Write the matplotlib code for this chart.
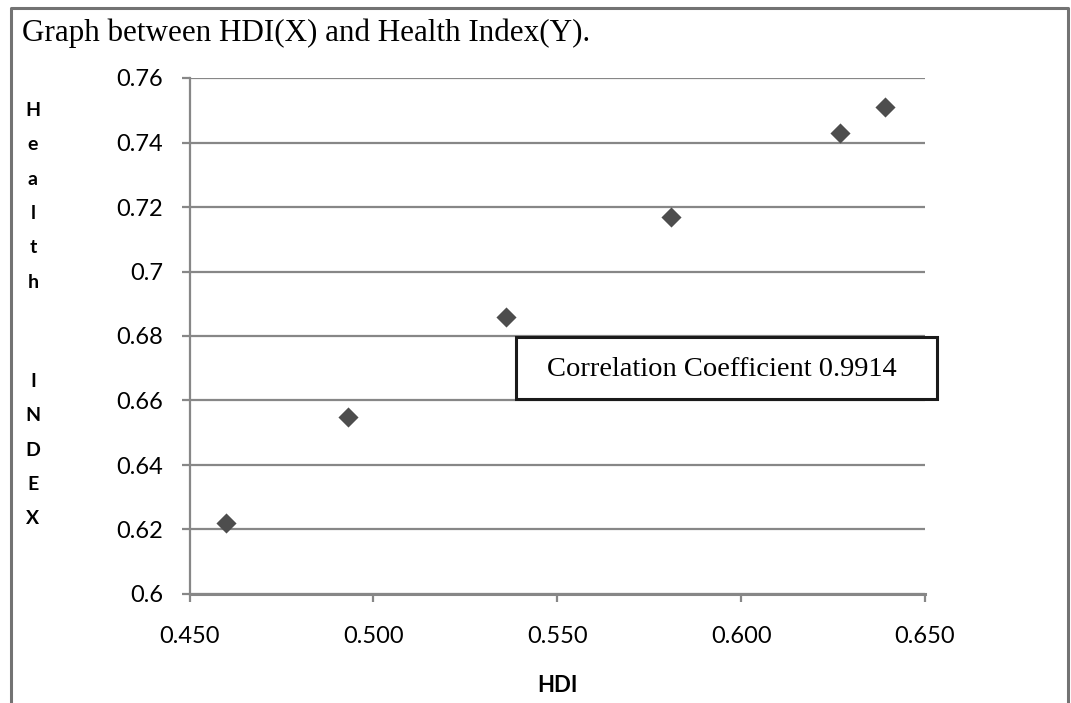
import numpy as np
import matplotlib.pyplot as plt
from matplotlib.lines import Line2D
from matplotlib.patches import Rectangle

# data
hdi = [0.460, 0.493, 0.536, 0.581, 0.627, 0.639]
health = [0.622, 0.655, 0.686, 0.717, 0.743, 0.751]
x_ticks = [0.45, 0.50, 0.55, 0.60, 0.65]
x_labels = ["0.450", "0.500", "0.550", "0.600", "0.650"]
y_ticks = [0.6, 0.62, 0.64, 0.66, 0.68, 0.7, 0.72, 0.74, 0.76]
y_labels = ["0.6", "0.62", "0.64", "0.66", "0.68", "0.7", "0.72", "0.74", "0.76"]

W, H = 1071, 703
fig = plt.figure(figsize=(W / 100, H / 100), dpi=100)
ax = fig.add_axes([189.5 / W, 1 - 594 / H, (925 - 189.5) / W, (594 - 78) / H])

grey = "#878787"
ax.scatter(hdi, health, marker="D", s=105, color="#4d4d4d", zorder=3, linewidths=0)

ax.set_xlim(0.45, 0.65)
ax.set_ylim(0.6, 0.76)
ax.set_xticks(x_ticks)
ax.set_xticklabels(x_labels)
ax.set_yticks(y_ticks)
ax.set_yticklabels(y_labels)
ax.yaxis.grid(True, color=grey, linewidth=1.6)
ax.set_axisbelow(True)
for s in ["top", "right"]:
    ax.spines[s].set_visible(False)
ax.spines["left"].set_color(grey)
ax.spines["left"].set_linewidth(1.6)
ax.spines["bottom"].set_color(grey)
ax.spines["bottom"].set_linewidth(2.2)
ax.tick_params(axis="both", colors=grey, length=6, width=1.6, labelcolor="black",
               labelsize=17)
ax.tick_params(axis="y", pad=13)
ax.tick_params(axis="x", pad=17)
for t in ax.get_xticklabels() + ax.get_yticklabels():
    t.set_fontfamily("Lato")

ax.set_xlabel("HDI", fontsize=16, fontweight="bold", family="Lato", labelpad=20)

# stacked y label
fig.text(33 / W, 1 - 102 / H, "H\ne\na\nl\nt\nh", ha="center", va="top",
         fontsize=14, fontweight="bold", family="Lato", linespacing=2.24)
fig.text(33 / W, 1 - 373 / H, "I\nN\nD\nE\nX", ha="center", va="top",
         fontsize=14, fontweight="bold", family="Lato", linespacing=2.24)

fig.text(22 / W, 1 - 18 / H, "Graph between HDI(X) and Health Index(Y).", ha="left",
         va="top", fontsize=22.4, family="Liberation Serif")

# correlation box
fig.patches.append(Rectangle((516 / W, 1 - 399 / H), (936.7 - 516) / W, (399 - 336.7) / H,
                             transform=fig.transFigure, facecolor="white",
                             edgecolor="#1a1a1a", linewidth=2.2, zorder=5))
fig.text(722 / W, 1 - 369 / H, "Correlation Coefficient 0.9914", ha="center", va="center",
         fontsize=20.5, family="Liberation Serif", zorder=6)

# outer frame
bc = "#737373"
fig.lines.append(Line2D([11 / W, 11 / W, 1068 / W, 1068 / W], [0, 1 - 7.5 / H, 1 - 7.5 / H, 0],
                        transform=fig.transFigure, color=bc, linewidth=2.2))

fig.savefig("out.png", dpi=100)
